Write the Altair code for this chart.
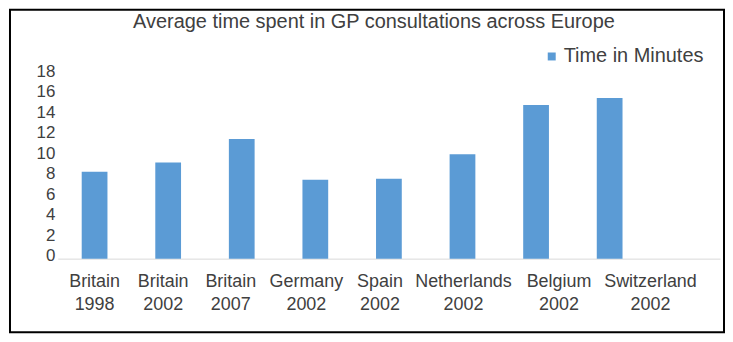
import altair as alt
import pandas as pd

categories = ["Britain 1998", "Britain 2002", "Britain 2007", "Germany 2002",
              "Spain 2002", "Netherlands 2002", "Belgium 2002", "Switzerland 2002"]
minutes = [8.5, 9.4, 11.7, 7.7, 7.8, 10.2, 15.0, 15.7]
series_name = "Time in Minutes"
y_ticks = [0, 2, 4, 6, 8, 10, 12, 14, 16, 18]
title_text = "Average time spent in GP consultations across Europe"

df = pd.DataFrame({"category": categories, "minutes": minutes, "series": series_name})
domain = categories + [" "]  # empty trailing slot as in the reference

FONT = "Liberation Sans"
TXT = "#404040"
BLUE = "#5B9BD5"

# per-label horizontal nudges (style only) to mimic the reference's label layout
nudges = {"Britain 2002": -5, "Britain 2007": -11, "Germany 2002": -9,
          "Spain 2002": -9, "Netherlands 2002": 1, "Belgium 2002": 23,
          "Switzerland 2002": 41}
label_offset = {
    "condition": [{"test": f"datum.value == '{k}'", "value": v} for k, v in nudges.items()],
    "value": 0,
}

W, H = 665, 185
PL, PT, PR, PB = 50, 66, 5, 75

bars = alt.Chart(df).mark_bar(color=BLUE).encode(
    x=alt.X("category:N", sort=domain,
            scale=alt.Scale(domain=domain, paddingInner=0.65, paddingOuter=0.325),
            axis=alt.Axis(title=None, labelAngle=0, labelExpr="split(datum.value, ' ')",
                          labelFont=FONT, labelFontSize=18, labelColor=TXT,
                          labelLineHeight=23, labelPadding=14, labelOffset=label_offset,
                          ticks=False, domainColor="#D9D9D9", domainWidth=1,
                          grid=False, labelBaseline="top")),
    y=alt.Y("minutes:Q", scale=alt.Scale(domain=[0, 18], nice=False),
            axis=alt.Axis(title=None, values=y_ticks, labelFont=FONT, labelFontSize=17,
                          labelColor=TXT, labelPadding=3, labelOffset=-3, ticks=False,
                          domain=False, grid=False)),
    color=alt.Color("series:N", scale=alt.Scale(range=[BLUE]),
                    legend=alt.Legend(title=None, orient="none", legendX=486, legendY=-28,
                                      symbolType="square", symbolSize=64,
                                      symbolStrokeWidth=0, labelFont=FONT,
                                      labelFontSize=20, labelColor=TXT, labelOffset=2,
                                      padding=0)),
)

border = alt.Chart(pd.DataFrame({"k": [0]})).mark_rect(
    fill=None, stroke="black", strokeWidth=2, clip=False
).encode(
    x=alt.value(-PL + 2), x2=alt.value(W + PR - 1),
    y=alt.value(-PT + 1), y2=alt.value(H + PB - 1),
)

chart = alt.layer(bars, border).properties(
    width=W, height=H,
    background="white",
    padding={"left": PL, "top": PT, "right": PR, "bottom": PB},
    autosize=alt.AutoSizeParams(type="none"),
    title=alt.TitleParams(title_text, font=FONT, fontSize=20, fontWeight="normal",
                          color=TXT, anchor="middle", dx=-15, offset=-43,
                          baseline="bottom"),
).configure_view(strokeWidth=0, stroke="transparent")

chart.save("out.html", embed_options={"renderer": "svg", "actions": False})
